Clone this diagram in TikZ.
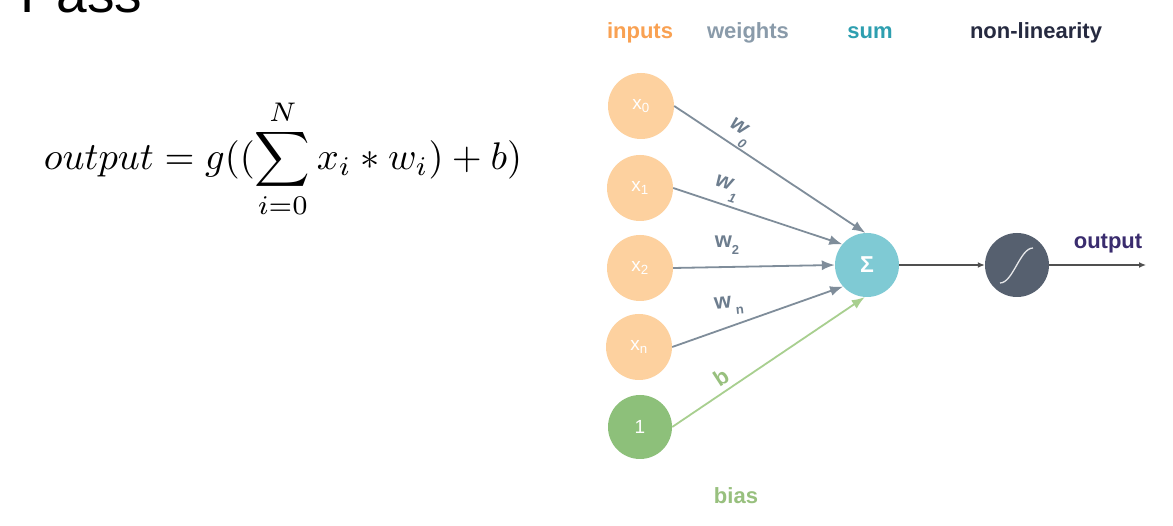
\documentclass[tikz,border=0pt]{standalone}
\usepackage{fontspec}
\setsansfont{Liberation Sans}
\usetikzlibrary{arrows.meta}
\definecolor{inpc}{HTML}{FDD19F}
\definecolor{inptxt}{HTML}{F9A152}
\definecolor{wtxt}{HTML}{8A9BAA}
\definecolor{wlab}{HTML}{6D7D8E}
\definecolor{wline}{HTML}{7F8D9A}
\definecolor{sumc}{HTML}{7FCAD4}
\definecolor{sumtxt}{HTML}{2E9FB0}
\definecolor{sigc}{HTML}{56606F}
\definecolor{nltxt}{HTML}{262A40}
\definecolor{outtxt}{HTML}{3A2C6E}
\definecolor{biasc}{HTML}{8DC07A}
\definecolor{biasline}{HTML}{A8CF8F}
\definecolor{biastxt}{HTML}{98C07E}
\definecolor{darkline}{HTML}{505050}
\begin{document}
\begin{tikzpicture}[x=1pt,y=-1pt,
  header/.style={anchor=base,inner sep=0pt,font=\sffamily\bfseries\fontsize{22}{22}\selectfont},
  inpnode/.style={circle,fill=inpc,minimum size=66pt,inner sep=0pt,text=white,font=\sffamily\fontsize{19}{19}\selectfont},
  biasnode/.style={circle,fill=biasc,minimum size=64pt,inner sep=0pt,text=white,font=\sffamily\fontsize{19}{19}\selectfont},
  sumnode/.style={circle,fill=sumc,minimum size=64pt,inner sep=0pt,text=white,font=\sffamily\bfseries\fontsize{23}{23}\selectfont},
  signode/.style={circle,fill=sigc,minimum size=64pt,inner sep=0pt},
  wedge/.style={draw=wline,line width=1.8pt,-{Latex[length=13pt,width=10pt]}},
  bedge/.style={draw=biasline,line width=1.8pt,-{Latex[length=13pt,width=10pt]}},
  dedge/.style={draw=darkline,line width=1.3pt,-{Latex[length=7pt,width=6pt]}},
  wlabel/.style={inner sep=0pt,text=wlab,font=\sffamily\bfseries\fontsize{22}{22}\selectfont}
]
\useasboundingbox (0,0) rectangle (1173,526);
\fill[white] (0,0) rectangle (1173,526);
\begin{scope}
\clip (0,0) rectangle (1173,526);
\node[anchor=base west,inner sep=0pt,font=\sffamily\fontsize{55}{55}\selectfont] (title) at (20,13) {Pass};
\end{scope}

% formula
\node[scale=3.85,inner sep=0pt] (formula) at (283,159) {$\displaystyle output = g((\sum_{i=0}^{N} x_i * w_i) + b)$};

% headers
\node[header,text=inptxt] (hin) at (640,39) {inputs};
\node[header,text=wtxt] (hw) at (748,39) {weights};
\node[header,text=sumtxt] (hs) at (870,39) {sum};
\node[header,text=nltxt] (hnl) at (1036,39) {non-linearity};
\node[header,text=biastxt] (hb) at (736,503) {bias};

% nodes
\node[inpnode] (x0) at (641,106) {x\textsubscript{0}};
\node[inpnode] (x1) at (640,188) {x\textsubscript{1}};
\node[inpnode] (x2) at (640,268) {x\textsubscript{2}};
\node[inpnode] (xn) at (639,347) {x\textsubscript{n}};
\node[biasnode] (one) at (640,427) {1};
\node[sumnode] (sum) at (867,265) {Σ};
\node[signode] (sig) at (1017,265) {};
\draw[white!85!sigc,line width=1.3pt,shift={(sig)}] (-17,18) .. controls (-4,18) and (3,-17) .. (16,-17);
\coordinate (out) at (1146,265);

% connectors
\draw[wedge] (x0.east) -- (sum.93);
\draw[wedge] (x1.east) -- (sum.140);
\draw[wedge] (x2.east) -- (sum.180);
\draw[wedge] (xn.east) -- (sum.222);
\draw[bedge] (one.east) -- (sum.266);
\draw[dedge] (sum.east) -- (sig.west);
\draw[dedge] (sig.east) -- (out);
\node[anchor=base,inner sep=0pt,text=outtxt,font=\sffamily\bfseries\fontsize{22}{22}\selectfont] (outlab) at (1108,249) {output};

% weight labels
\node[wlabel,rotate=-33] (lw0) at (739,133) {\itshape w\raisebox{-0.55em}{\fontsize{13}{13}\selectfont\itshape 0}};
\node[wlabel,rotate=-17] (lw1) at (726,189) {\itshape w\raisebox{-0.55em}{\fontsize{13}{13}\selectfont\itshape 1}};
\node[wlabel] (lw2) at (727,245) {w\raisebox{-0.3em}{\fontsize{13}{13}\selectfont 2}};
\node[wlabel,rotate=6] (lwn) at (729,306) {w\,\raisebox{-0.35em}{\fontsize{13}{13}\selectfont n}};
\node[wlabel,text=biastxt,rotate=33] (lb) at (721,377) {b};
\end{tikzpicture}
\end{document}
